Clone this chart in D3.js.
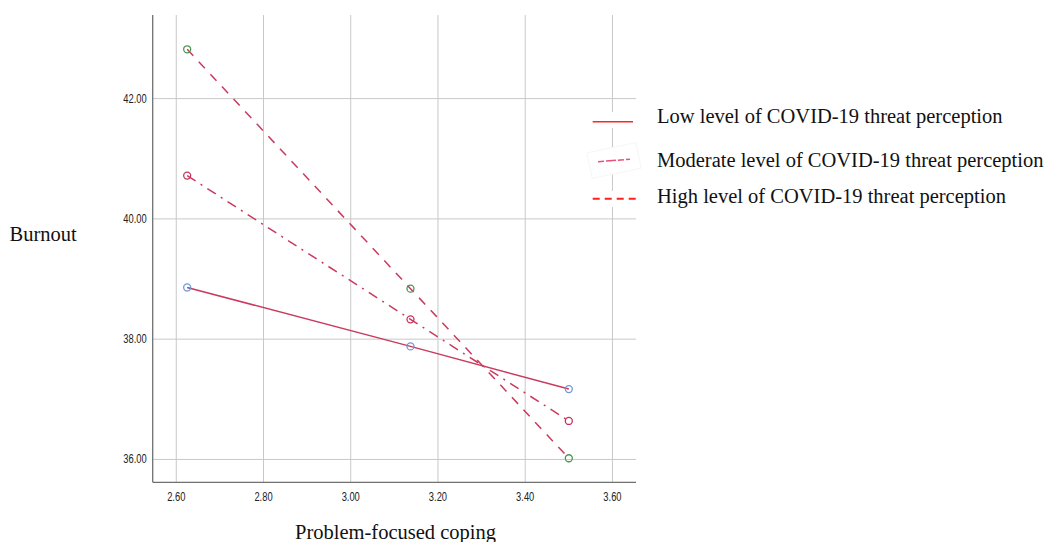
<!DOCTYPE html>
<html>
<head>
<meta charset="utf-8">
<script src="https://cdn.jsdelivr.net/npm/d3@7"></script>
<style>
  body { margin: 0; background: #fff; }
  svg { display: block; }
</style>
</head>
<body>
<svg width="1049" height="542"></svg>
<script>
// DATA
const xValues = [2.625, 3.137, 3.50];
const lowValues = [38.86, 37.88, 37.17];
const moderateValues = [40.72, 38.33, 36.64];
const highValues = [42.82, 38.84, 36.02];
const xTicks = [2.60, 2.80, 3.00, 3.20, 3.40, 3.60];
const yTicks = [36, 38, 40, 42];
const seriesNames = [
  "Low level of COVID-19 threat perception",
  "Moderate level of COVID-19 threat perception",
  "High level of COVID-19 threat perception"
];

const svg = d3.select("svg");

// CONSTANTS
const plot = { left: 152.7, right: 636, top: 15, bottom: 482.3 };
const lineColor = "#c93a5e";
const serif = "'Liberation Serif', 'Times New Roman', serif";
const sans = "'Liberation Sans', Arial, sans-serif";

const series = [
  { name: seriesNames[0], values: lowValues, dash: null, marker: "#6a9ad8", legendColor: "#ff2424", legendDash: null },
  { name: seriesNames[1], values: moderateValues, dash: "10,6,2,6", marker: "#c8325a", legendColor: "#e8507a", legendDash: "6,2,10,2" },
  { name: seriesNames[2], values: highValues, dash: "9,8", marker: "#4a9650", legendColor: "#ff2020", legendDash: "7,5" }
];

// SCALES
const xScale = d3.scaleLinear().domain([2.546, 3.654]).range([plot.left, plot.right]);
const yScale = d3.scaleLinear().domain([35.62, 43.39]).range([plot.bottom, plot.top]);

// grid
const grid = svg.append("g");
grid.selectAll("line.v").data(xTicks).join("line")
  .attr("class", "v")
  .attr("x1", d => xScale(d)).attr("x2", d => xScale(d))
  .attr("y1", plot.top).attr("y2", plot.bottom)
  .attr("stroke", "#c8c8c8").attr("stroke-width", 1);
grid.selectAll("line.h").data(yTicks).join("line")
  .attr("class", "h")
  .attr("x1", plot.left).attr("x2", plot.right)
  .attr("y1", d => yScale(d)).attr("y2", d => yScale(d))
  .attr("stroke", "#c8c8c8").attr("stroke-width", 1);

// axes lines
svg.append("line")
  .attr("x1", plot.left).attr("x2", plot.left)
  .attr("y1", plot.top).attr("y2", plot.bottom)
  .attr("stroke", "#707070").attr("stroke-width", 1.3);
svg.append("line")
  .attr("x1", plot.left).attr("x2", plot.right)
  .attr("y1", plot.bottom).attr("y2", plot.bottom)
  .attr("stroke", "#707070").attr("stroke-width", 1.3);

// tick labels
svg.append("g").selectAll("text").data(yTicks).join("text")
  .attr("transform", d => `translate(146.7, ${yScale(d) + 4}) scale(0.78,1)`)
  .attr("text-anchor", "end")
  .attr("font-family", sans).attr("font-size", 12)
  .attr("fill", "#222")
  .text(d => d.toFixed(2));

svg.append("g").selectAll("text").data(xTicks).join("text")
  .attr("transform", d => `translate(${xScale(d)}, 500.5) scale(0.72,1)`)
  .attr("text-anchor", "middle")
  .attr("font-family", sans).attr("font-size", 13)
  .attr("fill", "#222")
  .text(d => d.toFixed(2));

// axis titles
svg.append("text")
  .attr("x", 9.5).attr("y", 240.7)
  .attr("font-family", serif).attr("font-size", 20.5)
  .attr("fill", "#111")
  .text("Burnout");
svg.append("text")
  .attr("x", 395.5).attr("y", 539)
  .attr("text-anchor", "middle")
  .attr("font-family", serif).attr("font-size", 20.5)
  .attr("fill", "#111")
  .text("Problem-focused coping");

// lines
const line = d3.line()
  .x((d, i) => xScale(xValues[i]))
  .y(d => yScale(d));

const lines = svg.append("g");
lines.selectAll("path").data(series).join("path")
  .attr("d", d => line(d.values))
  .attr("fill", "none")
  .attr("stroke", lineColor)
  .attr("stroke-width", 1.5)
  .attr("stroke-dasharray", d => d.dash);

// markers
series.forEach(s => {
  svg.append("g").selectAll("circle").data(s.values).join("circle")
    .attr("cx", (d, i) => xScale(xValues[i]))
    .attr("cy", d => yScale(d))
    .attr("r", 3.5)
    .attr("fill", "none")
    .attr("stroke", s.marker)
    .attr("stroke-width", 1.3);
});

// legend
const legendY = [121.7, 160.5, 198.7];
const legend = svg.append("g");

// white backgrounds behind legend symbols (they hide the grid)
legend.append("rect").attr("x", 590).attr("y", 112).attr("width", 48).attr("height", 16).attr("fill", "#fff");
legend.append("g")
  .attr("transform", "translate(614,160.5) rotate(-12)")
  .append("rect")
  .attr("x", -25).attr("y", -13).attr("width", 50).attr("height", 26)
  .attr("fill", "#fff").attr("stroke", "#f6f6f6");
legend.append("rect").attr("x", 590).attr("y", 191).attr("width", 50).attr("height", 16).attr("fill", "#fff");

const legendItems = legend.selectAll("g.item").data(series).join("g")
  .attr("class", "item");

legendItems.append("line")
  .attr("x1", (d, i) => i === 1 ? 598 : 592.7)
  .attr("x2", (d, i) => i === 0 ? 633 : i === 1 ? 630 : 640)
  .attr("y1", (d, i) => legendY[i] + (i === 1 ? 1.2 : 0))
  .attr("y2", (d, i) => legendY[i] - (i === 1 ? 1.2 : 0))
  .attr("stroke", d => d.legendColor)
  .attr("stroke-width", (d, i) => i === 2 ? 2 : 1.5)
  .attr("stroke-dasharray", d => d.legendDash);

legendItems.append("text")
  .attr("x", 657)
  .attr("y", (d, i) => [123.3, 166.7, 203.3][i])
  .attr("font-family", serif).attr("font-size", 20.5)
  .attr("fill", "#111")
  .text(d => d.name);
</script>
</body>
</html>
